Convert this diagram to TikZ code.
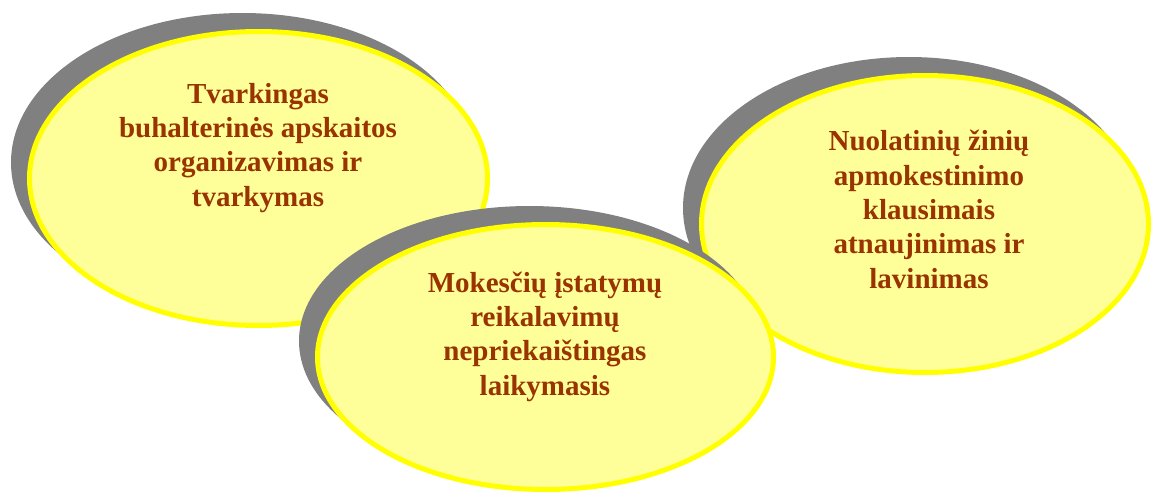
\documentclass[tikz,border=0pt]{standalone}
\usepackage{fontspec}
\setmainfont{Liberation Serif}
\usetikzlibrary{shapes.geometric,shadows}
\definecolor{bubblefill}{HTML}{FFFF99}
\definecolor{bubbleedge}{HTML}{FFFF00}
\definecolor{bubbleshade}{HTML}{808080}
\definecolor{bubbletext}{HTML}{993300}
\begin{document}
\begin{tikzpicture}[x=1pt,y=-1pt,
  bubble/.style={ellipse, inner sep=0pt, outer sep=0pt,
    fill=bubblefill, draw=bubbleedge, line width=5pt,
    drop shadow={shadow xshift=-16pt, shadow yshift=16pt,
      fill=bubbleshade, draw=bubbleshade, line width=5pt, opacity=1}},
  label/.style={anchor=base, align=center, inner sep=0pt,
    text=bubbletext,
    font=\fontsize{29}{34.3}\selectfont\bfseries}]
  \useasboundingbox (0,0) rectangle (1152,493);

  % left bubble (label placed by the baseline of its last line)
  \node[bubble, minimum width=458pt, minimum height=294pt] (b1) at (258.5,178.5) {};
  \node[label] (t1) at (258,206) {Tvarkingas\\buhalterinės apskaitos\\organizavimas ir\\tvarkymas};

  % right bubble
  \node[bubble, minimum width=447pt, minimum height=297pt] (b3) at (925,224) {};
  \node[label] (t3) at (929,288) {Nuolatinių žinių\\apmokestinimo\\klausimais\\atnaujinimas ir\\lavinimas};

  % middle bubble, in front of the other two
  \node[bubble, minimum width=456pt, minimum height=265pt] (b2) at (545.5,357) {};
  \node[label] (t2) at (545,395) {Mokesčių įstatymų\\reikalavimų\\nepriekaištingas\\laikymasis};
\end{tikzpicture}
\end{document}
